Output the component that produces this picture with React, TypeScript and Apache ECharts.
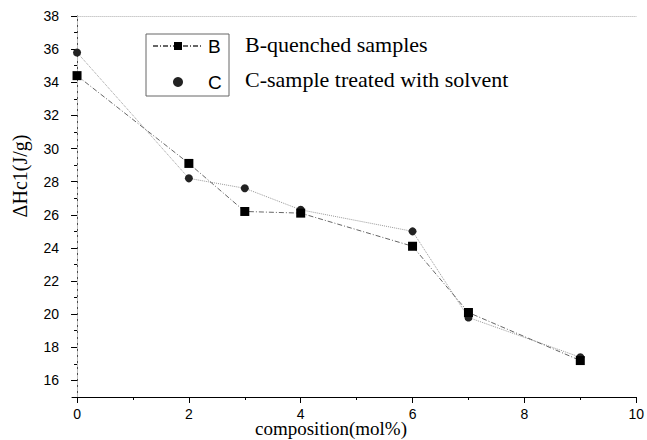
import React, { useEffect, useRef } from "react";
import * as echarts from "echarts";

const compositions = [0, 2, 3, 4, 6, 7, 9];
const seriesB = [34.4, 29.1, 26.2, 26.1, 24.1, 20.1, 17.2];
const seriesC = [35.8, 28.2, 27.6, 26.3, 25.0, 19.8, 17.4];
const xMajorTicks = [0, 2, 4, 6, 8, 10];
const xMinorTicks = [1, 3, 5, 7, 9];
const yMajorTicks = [16, 18, 20, 22, 24, 26, 28, 30, 32, 34, 36, 38];
const yMinorTicks = [17, 19, 21, 23, 25, 27, 29, 31, 33, 35, 37];
const seriesNames = ["B", "C"];
const seriesDescriptions = ["B-quenched samples", "C-sample treated with solvent"];
const xTitle = "composition(mol%)";
const yTitle = "\u0394Hc1(J/g)";

const SANS = "'Liberation Sans', Arial, sans-serif";
const SERIF = "'Liberation Serif', 'Times New Roman', serif";

export default function App() {
  const ref = useRef<HTMLDivElement>(null);
  useEffect(() => {
    if (!ref.current) return;
    const chart = echarts.init(ref.current, null, { renderer: "svg" });
    const xMin = -0.09, xMax = 10, yMin = 15, yMax = 38;
    const option: any = {
      animation: false,
      backgroundColor: "#fff",
      grid: { left: 72, right: 10, top: 16, bottom: 43 },
      xAxis: [
        {
          type: "value", position: "bottom", min: xMin, max: xMax,
          axisLine: { show: true, lineStyle: { color: "#000", width: 1 } },
          axisTick: { show: true, inside: false, length: 6, customValues: xMajorTicks, lineStyle: { color: "#000" } },
          axisLabel: { show: true, customValues: xMajorTicks, margin: 10, fontSize: 14, fontFamily: SANS, color: "#000" },
          splitLine: { show: false },
        },
        {
          type: "value", position: "bottom", min: xMin, max: xMax,
          axisLine: { show: false },
          axisTick: { show: true, inside: false, length: 3, customValues: xMinorTicks, lineStyle: { color: "#000" } },
          axisLabel: { show: false },
          splitLine: { show: false },
        },
        {
          type: "value", position: "top", min: xMin, max: xMax,
          axisLine: { show: true, lineStyle: { color: "#ccc", type: "dotted", width: 1 } },
          axisTick: { show: false }, axisLabel: { show: false }, splitLine: { show: false },
        },
      ],
      yAxis: [
        {
          type: "value", position: "left", min: yMin, max: yMax,
          axisLine: { show: true, lineStyle: { color: "#000", width: 1 } },
          axisTick: { show: true, inside: false, length: 6, customValues: yMajorTicks, lineStyle: { color: "#000" } },
          axisLabel: { show: true, customValues: yMajorTicks, margin: 13, fontSize: 14, fontFamily: SANS, color: "#000" },
          splitLine: { show: false },
        },
        {
          type: "value", position: "left", min: yMin, max: yMax,
          axisLine: { show: false },
          axisTick: { show: true, inside: false, length: 3, customValues: yMinorTicks, lineStyle: { color: "#000" } },
          axisLabel: { show: false },
          splitLine: { show: false },
        },
        {
          type: "value", position: "right", min: yMin, max: yMax,
          axisLine: { show: true, lineStyle: { color: "#bbb", type: "dashed", width: 1 } },
          axisTick: { show: false }, axisLabel: { show: false }, splitLine: { show: false },
        },
      ],
      legend: {
        show: true,
        orient: "vertical",
        left: 146,
        top: 34,
        itemWidth: 50,
        itemHeight: 10,
        itemGap: 16,
        padding: [2, 7, 4, 6],
        borderColor: "#666",
        borderWidth: 1,
        textStyle: { fontSize: 19, fontFamily: SANS, color: "#000", lineHeight: 20, width: 14, align: "right" },
        data: [{ name: seriesNames[0] }, { name: seriesNames[1], icon: "circle" }],
      },
      graphic: [
        {
          type: "text", left: 245, top: 33,
          style: { text: seriesDescriptions[0], font: `22px ${SERIF}`, fill: "#000" },
        },
        {
          type: "text", left: 245, top: 68,
          style: { text: seriesDescriptions[1], font: `22px ${SERIF}`, fill: "#000" },
        },
        {
          type: "text", x: 331, y: 428,
          style: { text: xTitle, font: `19px ${SERIF}`, fill: "#000", align: "center", verticalAlign: "middle" },
        },
        {
          type: "text", x: 20, y: 176, rotation: Math.PI / 2,
          style: { text: yTitle, font: `20px ${SERIF}`, fill: "#000", align: "center", verticalAlign: "middle" },
        },
      ],
      series: [
        {
          name: seriesNames[0], type: "line", xAxisIndex: 0, yAxisIndex: 0,
          data: compositions.map((x, i) => [x, seriesB[i]]),
          symbol: "rect", symbolSize: 9,
          itemStyle: { color: "#000" },
          lineStyle: { color: "#666", width: 1, type: [5, 2, 1, 2] },
          z: 3,
        },
        {
          name: seriesNames[1], type: "line", xAxisIndex: 0, yAxisIndex: 0,
          data: compositions.map((x, i) => [x, seriesC[i]]),
          symbol: "circle", symbolSize: 8,
          itemStyle: { color: "#222" },
          lineStyle: { color: "#999", width: 1, type: "dotted" },
          z: 2,
        },
      ],
    };
    chart.setOption(option);
    return () => chart.dispose();
  }, []);
  return (
    <div
      ref={ref}
      style={{ position: "fixed", left: 0, top: 0, width: 647, height: 440, background: "#fff" }}
    />
  );
}
